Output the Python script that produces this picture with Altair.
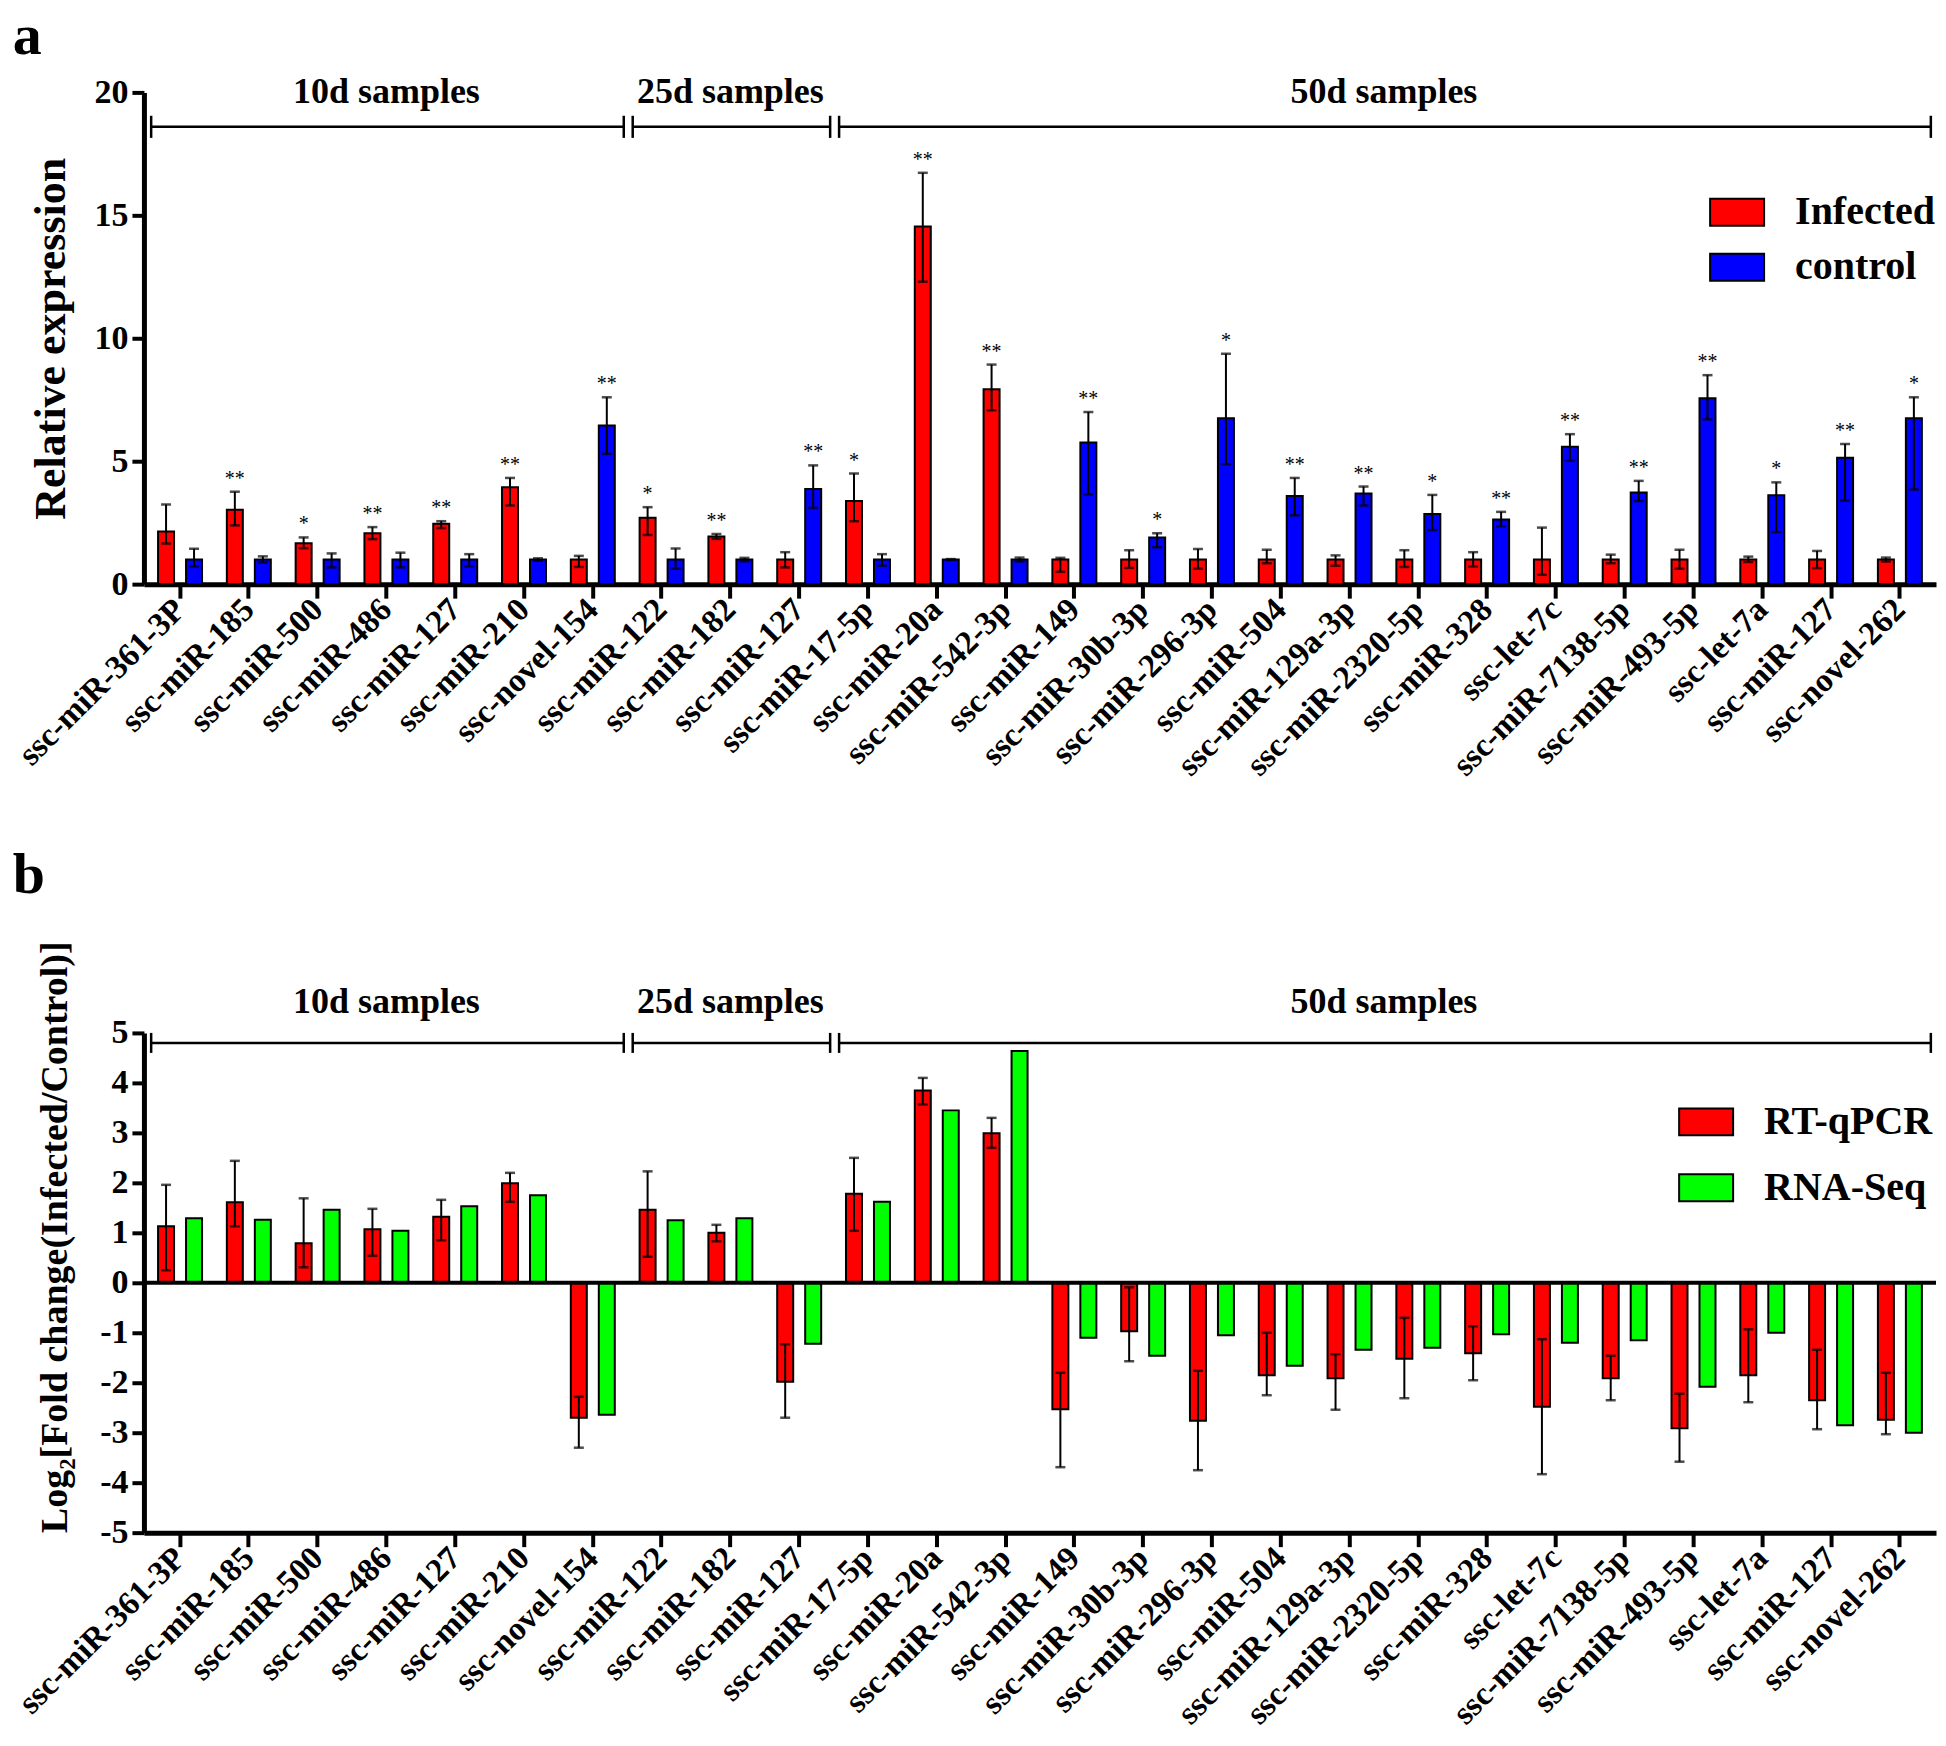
import altair as alt
import numpy as np
import pandas as pd

F = "Liberation Serif"

mirnas = ["ssc-miR-361-3P", "ssc-miR-185", "ssc-miR-500", "ssc-miR-486", "ssc-miR-127", "ssc-miR-210",
          "ssc-novel-154", "ssc-miR-122", "ssc-miR-182", "ssc-miR-127", "ssc-miR-17-5p", "ssc-miR-20a",
          "ssc-miR-542-3p", "ssc-miR-149", "ssc-miR-30b-3p", "ssc-miR-296-3p", "ssc-miR-504",
          "ssc-miR-129a-3p", "ssc-miR-2320-5p", "ssc-miR-328", "ssc-let-7c", "ssc-miR-7138-5p",
          "ssc-miR-493-5p", "ssc-let-7a", "ssc-miR-127", "ssc-novel-262"]
groups = ["10d samples", "25d samples", "50d samples"]
group_sizes = [7, 3, 16]

# Panel a: relative expression
a_series = ["Infected", "control"]
inf = [2.14, 3.03, 1.66, 2.07, 2.46, 3.94, 1.0, 2.7, 1.94, 1.0, 3.38, 14.55, 7.93, 1.0, 1.0, 1.0, 1.0,
       1.0, 1.0, 1.0, 1.0, 1.0, 1.0, 1.0, 1.0, 1.0]
inf_hi = [3.24, 3.76, 1.9, 2.32, 2.56, 4.32, 1.15, 3.13, 2.04, 1.3, 4.5, 16.73, 8.93, 1.07, 1.38, 1.43, 1.4,
          1.17, 1.38, 1.3, 2.3, 1.2, 1.4, 1.12, 1.35, 1.08]
inf_lo = [1.65, 2.39, 1.46, 1.83, 2.28, 3.2, 0.7, 2.0, 1.84, 0.68, 2.56, 12.3, 7.07, 0.5, 0.66, 0.63, 0.85,
          0.75, 0.7, 0.72, 0.38, 0.85, 0.63, 0.9, 0.65, 0.92]
ctl = [1.0, 1.0, 1.0, 1.0, 1.0, 1.0, 6.45, 1.0, 1.0, 3.87, 1.0, 1.0, 1.0, 5.76, 1.9, 6.75, 3.59,
       3.69, 2.85, 2.63, 5.59, 3.73, 7.56, 3.62, 5.14, 6.75]
ctl_hi = [1.44, 1.13, 1.25, 1.28, 1.22, 1.05, 7.6, 1.45, 1.07, 4.83, 1.22, 1.02, 1.08, 7.0, 2.07, 9.37, 4.32,
          3.97, 3.63, 2.94, 6.1, 4.2, 8.5, 4.14, 5.7, 7.6]
ctl_lo = [0.72, 0.88, 0.68, 0.68, 0.72, 0.95, 5.3, 0.63, 0.93, 3.1, 0.75, 0.98, 0.92, 3.65, 1.5, 4.88, 2.8,
          3.2, 2.2, 2.35, 5.02, 3.38, 6.7, 2.12, 3.4, 3.85]
inf_star = ["", "**", "*", "**", "**", "**", "", "*", "**", "", "*", "**", "**", "", "", "", "",
            "", "", "", "", "", "", "", "", ""]
ctl_star = ["", "", "", "", "", "", "**", "", "", "**", "", "", "", "**", "*", "*", "**",
            "**", "*", "**", "**", "**", "**", "*", "**", "*"]

# Panel b: log2 fold change
b_series = ["RT-qPCR", "RNA-Seq"]
qpcr = [1.13, 1.61, 0.79, 1.07, 1.32, 1.99, -2.7, 1.46, 1.0, -1.98, 1.78, 3.85, 2.99, -2.53, -0.97, -2.76,
        -1.85, -1.91, -1.52, -1.41, -2.48, -1.91, -2.91, -1.85, -2.35, -2.74]
qpcr_hi = [1.96, 2.44, 1.69, 1.48, 1.66, 2.2, -2.28, 2.23, 1.16, -1.23, 2.5, 4.1, 3.3, -1.8, -0.09, -1.76,
           -1.0, -1.43, -0.7, -0.87, -1.13, -1.46, -2.22, -0.93, -1.34, -1.8]
qpcr_lo = [0.25, 1.13, 0.31, 0.54, 0.85, 1.62, -3.3, 0.52, 0.83, -2.7, 1.04, 3.57, 2.7, -3.69, -1.57, -3.75,
           -2.25, -2.54, -2.31, -1.95, -3.83, -2.35, -3.58, -2.39, -2.93, -3.03]
rnaseq = [1.29, 1.26, 1.46, 1.04, 1.53, 1.75, -2.64, 1.25, 1.29, -1.22, 1.62, 3.45, 4.64, -1.1, -1.46, -1.05,
          -1.66, -1.34, -1.3, -1.03, -1.2, -1.15, -2.08, -1.0, -2.85, -3.0]

keys = [f"{i:02d}|{n}" for i, n in enumerate(mirnas)]

rows_a = []
for i, k in enumerate(keys):
    rows_a.append(dict(key=k, series="Infected", value=inf[i], lo=inf_lo[i], hi=inf_hi[i], star=inf_star[i]))
    rows_a.append(dict(key=k, series="control", value=ctl[i], lo=ctl_lo[i], hi=ctl_hi[i], star=ctl_star[i]))
df_a = pd.DataFrame(rows_a)

rows_b = []
for i, k in enumerate(keys):
    rows_b.append(dict(key=k, series="RT-qPCR", value=qpcr[i], lo=qpcr_lo[i], hi=qpcr_hi[i]))
    rows_b.append(dict(key=k, series="RNA-Seq", value=rnaseq[i], lo=None, hi=None))
df_b = pd.DataFrame(rows_b)

bounds = np.cumsum([0] + group_sizes)
df_g = pd.DataFrame(dict(group=groups, start=bounds[:-1] + 0.08, end=bounds[1:] - 0.05,
                         mid=(bounds[:-1] + bounds[1:]) / 2.0))

N = len(mirnas)
W = 1793
BAR_W = 16
OFF = 14


def xaxis():
    return alt.Axis(title=None, labelExpr="split(datum.label, '|')[1]", labelAngle=-45,
                    labelAlign="right", labelBaseline="middle", labelFont=F, labelFontSize=33,
                    labelFontWeight="bold", labelColor="black", labelLimit=500, labelOverlap=False,
                    tickSize=14, tickWidth=4, tickColor="black", domainWidth=5, domainColor="black",
                    labelPadding=6, grid=False)


def xenc():
    return alt.X("key:N", sort="ascending", scale=alt.Scale(paddingInner=0, paddingOuter=0.025),
                 axis=xaxis())


def legend(x, y, rowpad):
    return alt.Legend(title=None, orient="none", legendX=x, legendY=y,
                      symbolType="M-1,-0.5H1V0.5H-1Z", symbolSize=2916,
                      symbolStrokeColor="black", symbolStrokeWidth=2, symbolOpacity=1,
                      labelFont=F, labelFontSize=40, labelFontWeight="bold", labelColor="black",
                      labelOffset=30, labelLimit=400, rowPadding=rowpad, padding=0)


def series_layers(df, series, colors, yscale, yaxis, leg, with_err, stars):
    layers = []
    offs = [-OFF, OFF]
    for s, off in zip(series, offs):
        sub = alt.Chart(df).transform_filter(alt.datum.series == s)
        layers.append(sub.mark_bar(stroke="black", strokeWidth=2, width=BAR_W, xOffset=off).encode(
            x=xenc(),
            y=alt.Y("value:Q", scale=yscale, axis=yaxis),
            color=alt.Color("series:N", sort=series, scale=alt.Scale(domain=series, range=colors),
                            legend=leg)))
    for s, off in zip(series, offs):
        if s not in with_err:
            continue
        sub = alt.Chart(df).transform_filter(alt.datum.series == s)
        layers.append(sub.mark_rule(color="black", strokeWidth=2, xOffset=off).encode(
            x=xenc(), y=alt.Y("lo:Q", scale=yscale, axis=yaxis), y2="hi:Q"))
        for fld in ["hi", "lo"]:
            layers.append(sub.mark_tick(color="black", thickness=2.5, size=10, xOffset=off).encode(
                x=xenc(), y=alt.Y(f"{fld}:Q", scale=yscale, axis=yaxis)))
        if stars:
            layers.append(sub.mark_text(font=F, fontSize=20, color="black", baseline="bottom", dy=-3,
                                        xOffset=off).encode(
                x=xenc(), y=alt.Y("hi:Q", scale=yscale, axis=yaxis), text="star:N"))
    return layers


def group_layer(df, bracket_y, cap_half, label_y):
    gx = alt.Scale(domain=[-0.025, N + 0.025], nice=False, zero=False)
    base = alt.Chart(df)
    line = base.mark_rule(color="black", strokeWidth=2.5).encode(
        x=alt.X("start:Q", scale=gx, axis=None), x2="end:Q", y=alt.datum(bracket_y))
    capl = base.mark_rule(color="black", strokeWidth=2.5).encode(
        x=alt.X("start:Q", scale=gx, axis=None), y=alt.datum(bracket_y - cap_half),
        y2=alt.datum(bracket_y + cap_half))
    capr = base.mark_rule(color="black", strokeWidth=2.5).encode(
        x=alt.X("end:Q", scale=gx, axis=None), y=alt.datum(bracket_y - cap_half),
        y2=alt.datum(bracket_y + cap_half))
    lab = base.mark_text(font=F, fontSize=36, fontWeight="bold", color="black", baseline="middle").encode(
        x=alt.X("mid:Q", scale=gx, axis=None), y=alt.datum(label_y), text="group:N")
    return alt.layer(line, capl, capr, lab)


# ---------- Panel a ----------
ya = alt.Scale(domain=[0, 20], nice=False)
yaxis_a = alt.Axis(title="Relative expression", values=[0, 5, 10, 15, 20], titleFont=F,
                   titleFontSize=44, titleFontWeight="bold", titleColor="black", labelFont=F,
                   labelFontSize=34, labelFontWeight="bold", labelColor="black", tickSize=12,
                   tickWidth=4, tickColor="black", domainWidth=5, domainColor="black", grid=False,
                   titlePadding=20, labelPadding=4)

inner_a = alt.layer(*series_layers(df_a, a_series, ["#ff0000", "#0000ff"], ya, yaxis_a,
                                   legend(1566, 92, 7), a_series, True))
panel_a = alt.layer(inner_a, group_layer(df_g, 18.6, 0.45, 20.0)).resolve_scale(x="independent").properties(
    width=W, height=492,
    title=alt.TitleParams("a", anchor="start", frame="bounds", fontSize=58, font=F, fontWeight="bold",
                          color="black", offset=8))

# ---------- Panel b ----------
yb = alt.Scale(domain=[-5, 5], nice=False)
yaxis_b = alt.Axis(title="Log₂[Fold change(Infected/Control)]", values=list(range(-5, 6)),
                   labelExpr="datum.value < 0 ? '-' + abs(datum.value) : '' + datum.value",
                   titleFont=F, titleFontSize=38, titleFontWeight="bold", titleColor="black",
                   titleAnchor="start", labelFont=F, labelFontSize=34, labelFontWeight="bold",
                   labelColor="black", tickSize=12, tickWidth=4, tickColor="black", domainWidth=5,
                   domainColor="black", grid=False, titlePadding=25, labelPadding=4)

zero_b = alt.Chart(pd.DataFrame({"z": [0]})).mark_rule(color="black", strokeWidth=4).encode(
    y=alt.Y("z:Q", scale=yb, axis=yaxis_b))
layers_b = series_layers(df_b, b_series, ["#ff0000", "#00ff00"], yb, yaxis_b,
                         legend(1535, 61, 18), ["RT-qPCR"], False)
inner_b = alt.layer(*(layers_b[:2] + [zero_b] + layers_b[2:]))
panel_b = alt.layer(inner_b, group_layer(df_g, 4.8, 0.2, 5.62)).resolve_scale(x="independent").properties(
    width=W, height=500,
    title=alt.TitleParams("b", anchor="start", frame="bounds", fontSize=58, font=F, fontWeight="bold",
                          color="black", offset=36))

chart = alt.vconcat(panel_a, panel_b, spacing=64).resolve_scale(color="independent").properties(
    padding={"left": 4, "top": 0, "right": 0, "bottom": 0}).configure_view(stroke=None)

chart.save("out.html", embed_options={"renderer": "svg", "actions": False})
